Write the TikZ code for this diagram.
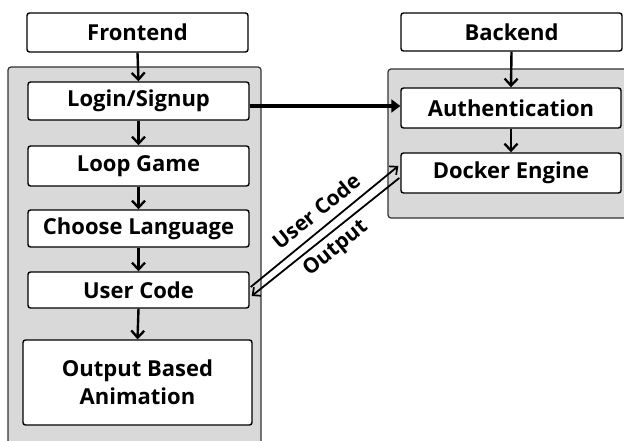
\documentclass[tikz,border=0pt]{standalone}
\usepackage{fontspec}
\setmainfont{Open Sans}
\usetikzlibrary{arrows.meta,calc}
\definecolor{panelgray}{HTML}{D9D9D9}
\begin{document}
\begin{tikzpicture}[x=1pt,y=-1pt,
  box/.style={draw=black, line width=1.4pt, fill=white, rounded corners=2.5pt, font=\fontsize{22}{26}\selectfont\bfseries, align=center, inner sep=0pt},
  panel/.style={draw=black!80, line width=1.2pt, fill=panelgray, rounded corners=3pt},
  arr/.style={line width=2.4pt, -{Straight Barb[length=7pt,width=13pt,line width=2.3pt]}},
  thinarr/.style={line width=1.8pt, -{Straight Barb[length=6pt,width=11pt,line width=1.7pt]}},
  lbl/.style={font=\fontsize{21}{24}\selectfont\bfseries, inner sep=0pt, rotate=39}]
\useasboundingbox (0,0) rectangle (624,441);
\clip (0,0) rectangle (624,441);
\draw[panel] (8,67) rectangle (261,455);
\draw[panel] (388,69) rectangle (640,218);
\node[box, minimum width=221pt, minimum height=39pt] (fe) at (137.5,32.5) {Frontend};
\node[box, minimum width=221pt, minimum height=38pt] (login) at (138.5,101) {Login/Signup};
\node[box, minimum width=221pt, minimum height=40pt] (loop) at (138.5,166) {Loop Game};
\node[box, minimum width=221pt, minimum height=37pt] (choose) at (138.5,228.5) {Choose Language};
\node[box, minimum width=221pt, minimum height=36pt] (user) at (138.5,290) {User Code};
\node[box, minimum width=229pt, minimum height=85pt] (out) at (137.5,382.5) {Output Based\\[2pt]Animation};
\node[box, minimum width=221pt, minimum height=38pt] (be) at (511.5,32) {Backend};
\node[box, minimum width=220pt, minimum height=40pt] (auth) at (511,108) {Authentication};
\node[box, minimum width=220pt, minimum height=40pt] (dock) at (511,173) {Docker Engine};
\draw[arr] (fe.south) -- (login.north);
\draw[arr] (login.south) -- (loop.north);
\draw[arr] (loop.south) -- (choose.north);
\draw[arr] (choose.south) -- (user.north);
\draw[arr] (user.south) -- (out.north);
\draw[arr] (be.south) -- (auth.north);
\draw[arr] (auth.south) -- (dock.north);
\draw[line width=3.2pt, -{Triangle[length=9pt,width=13pt]}] ([yshift=-5pt]login.east) -- ([yshift=-5pt]login.east -| auth.west);
\draw[thinarr] ([xshift=1pt,yshift=3pt]user.east) -- ([xshift=-2pt,yshift=7pt]dock.west);
\draw[thinarr] ([xshift=-1pt,yshift=-5pt]dock.west) -- ([xshift=2pt,yshift=-6pt]user.east);
\node[lbl] (lblin) at (316,211) {User Code};
\node[lbl] (lblout) at (336,249) {Output};
\end{tikzpicture}
\end{document}
